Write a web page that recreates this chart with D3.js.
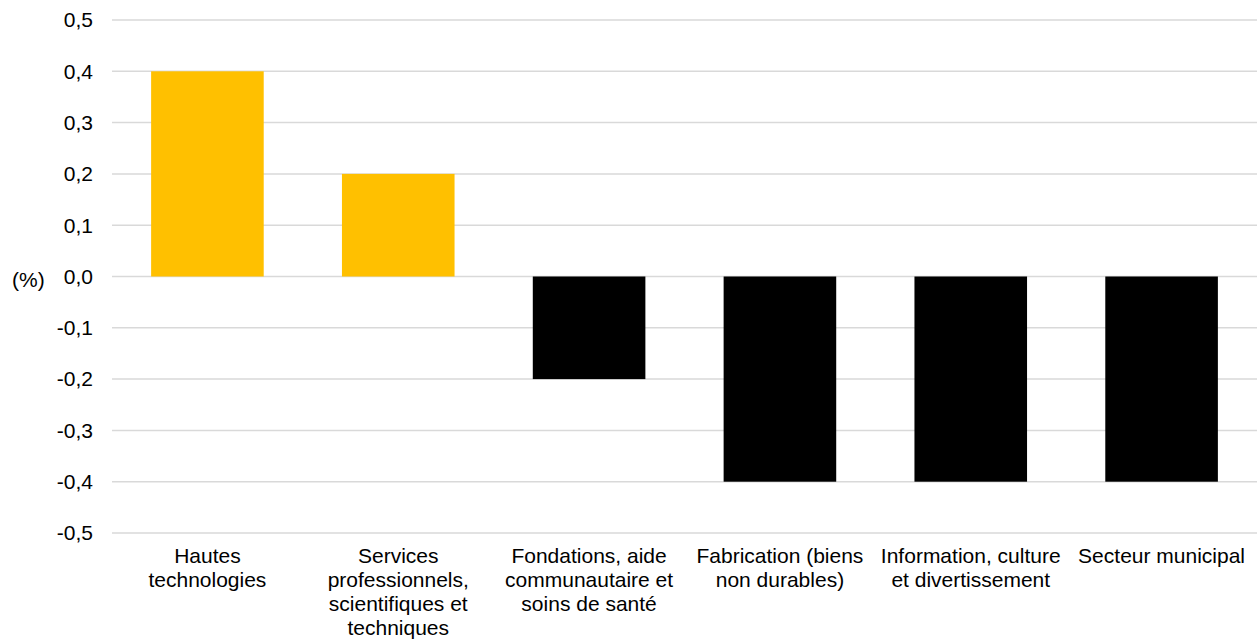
<!DOCTYPE html>
<html>
<head>
<meta charset="utf-8">
<script src="https://cdn.jsdelivr.net/npm/d3@7"></script>
<style>
  html, body { margin: 0; padding: 0; background: #fff; }
  svg { display: block; font-family: "Liberation Sans", Arial, Helvetica, sans-serif; }
</style>
</head>
<body>
<svg id="chart" width="1257" height="643"></svg>
<script>
const categories = [
  "Hautes technologies",
  "Services professionnels, scientifiques et techniques",
  "Fondations, aide communautaire et soins de santé",
  "Fabrication (biens non durables)",
  "Information, culture et divertissement",
  "Secteur municipal"
];
const categoryLines = [
  ["Hautes", "technologies"],
  ["Services", "professionnels,", "scientifiques et", "techniques"],
  ["Fondations, aide", "communautaire et", "soins de santé"],
  ["Fabrication (biens", "non durables)"],
  ["Information, culture", "et divertissement"],
  ["Secteur municipal"]
];
const values = [0.4, 0.2, -0.2, -0.4, -0.4, -0.4];
const yTicks = [-0.5, -0.4, -0.3, -0.2, -0.1, 0.0, 0.1, 0.2, 0.3, 0.4, 0.5];
const yUnit = "(%)";
const posColor = "#FFC000";
const negColor = "#000000";

(function () {
const svg = d3.select("#chart");
const mLeft = 112, mRight = 1257, mTop = 20, mBottom = 533;
const fontSize = 21;

const x = d3.scaleBand().domain(categories).range([mLeft, mRight]).paddingInner(0.41).paddingOuter(0.205);
const y = d3.scaleLinear().domain([-0.5, 0.5]).range([mBottom, mTop]);

const fmt = v => d3.format(".1f")(v).replace(".", ",").replace("−", "-");

// gridlines
svg.append("g").selectAll("line").data(yTicks).join("line")
  .attr("x1", mLeft).attr("x2", mRight)
  .attr("y1", d => y(d)).attr("y2", d => y(d))
  .attr("stroke", "#d9d9d9").attr("stroke-width", 1.5);

// y tick labels
svg.append("g").selectAll("text").data(yTicks).join("text")
  .attr("x", 93).attr("y", d => y(d))
  .attr("dy", "0.35em")
  .attr("text-anchor", "end")
  .attr("font-size", fontSize)
  .attr("fill", "#000")
  .text(d => fmt(d));

// unit label
svg.append("text")
  .attr("x", 12).attr("y", y(0) + 3)
  .attr("dy", "0.35em")
  .attr("font-size", fontSize)
  .attr("fill", "#000")
  .text(yUnit);

// bars
svg.append("g").selectAll("rect").data(values).join("rect")
  .attr("x", (d, i) => x(categories[i]))
  .attr("width", x.bandwidth())
  .attr("y", d => y(Math.max(0, d)))
  .attr("height", d => Math.abs(y(d) - y(0)))
  .attr("fill", d => d >= 0 ? posColor : negColor);

// category labels
const lab = svg.append("g").selectAll("text").data(categoryLines).join("text")
  .attr("text-anchor", "middle")
  .attr("font-size", fontSize)
  .attr("fill", "#000");
lab.each(function(lines, i) {
  const cx = x(categories[i]) + x.bandwidth() / 2;
  d3.select(this).selectAll("tspan").data(lines).join("tspan")
    .attr("x", cx)
    .attr("y", (d, j) => mBottom + 30 + j * 24)
    .text(d => d);
});
})();
</script>
</body>
</html>
